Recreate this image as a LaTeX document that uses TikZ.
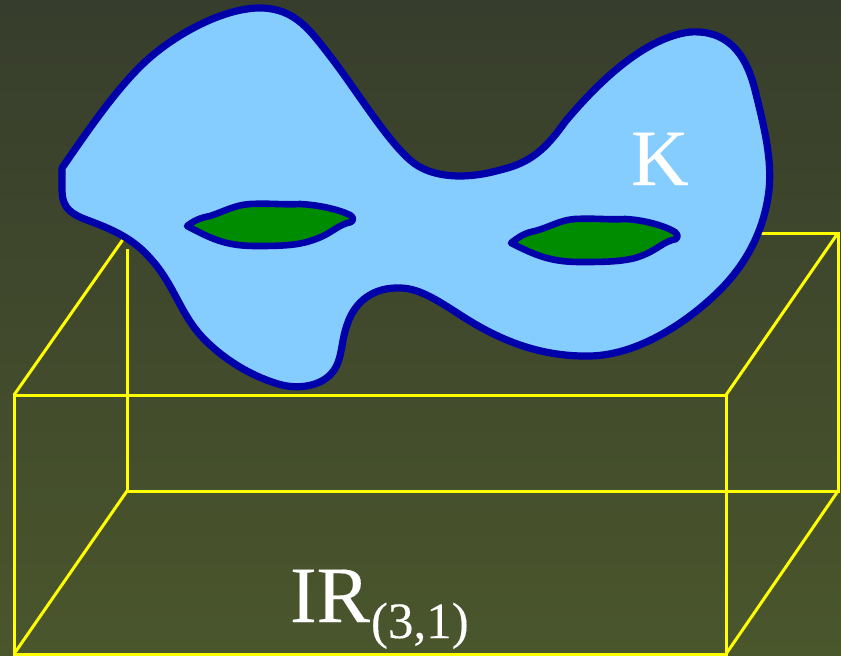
\documentclass[tikz,border=0pt]{standalone}
\usepackage{fontspec}
\setmainfont{Liberation Serif}[FakeBold=0.25]
\usetikzlibrary{shadings}
\definecolor{bgtop}{RGB}{55,61,44}
\definecolor{bgbot}{RGB}{74,86,44}
\definecolor{blobfill}{RGB}{133,204,255}
\definecolor{blobline}{RGB}{0,0,170}
\definecolor{holefill}{RGB}{0,140,0}
\definecolor{boxline}{RGB}{255,255,0}
\tikzset{
  boxedge/.style={draw=boxline,line width=3pt,line cap=butt,line join=miter},
  blob/.style={fill=blobfill,draw=blobline,line width=7.2pt,line join=round},
  hole/.style={fill=holefill,draw=blobline,line width=6.6pt,line join=round},
  whitetext/.style={text=white,inner sep=0pt,outer sep=0pt}
}
\begin{document}
\begin{tikzpicture}[x=1pt,y=-1pt]
\useasboundingbox (0,0) rectangle (841,656);
\shade[top color=bgtop,bottom color=bgbot] (0,0) rectangle (841,656);
% box corners
\coordinate (fa) at (14,395);
\coordinate (fb) at (726,395);
\coordinate (fc) at (726,654);
\coordinate (fd) at (14,654);
\coordinate (bb) at (838,233);
\coordinate (bc) at (838,491);
\coordinate (bd) at (127,491);
\coordinate (ba) at (127,249);
\coordinate (bt) at (760,233);
\coordinate (bl) at (124,238);
\draw[boxedge] (fa) -- (fb) -- (fc) -- (fd) -- cycle;
\draw[boxedge] (bt) -- (bb) -- (bc) -- (bd) -- (ba);
\draw[boxedge] (fa) -- (bl);
\draw[boxedge] (fb) -- (bb);
\draw[boxedge] (fc) -- (bc);
\draw[boxedge] (fd) -- (bd);
% surface
\draw[blob] (62,168)
 .. controls (85,135) and (115,90) .. (145,62)
 .. controls (175,34) and (225,7) .. (262,8)
 .. controls (295,9) and (310,30) .. (330,56)
 .. controls (355,88) and (385,138) .. (410,160)
 .. controls (430,178) and (465,180) .. (500,170)
 .. controls (530,163) and (545,150) .. (565,122)
 .. controls (590,92) and (640,38) .. (690,32)
 .. controls (725,30) and (745,50) .. (755,90)
 .. controls (765,130) and (772,160) .. (769,190)
 .. controls (765,225) and (750,260) .. (720,290)
 .. controls (690,320) and (640,355) .. (590,356)
 .. controls (540,357) and (500,340) .. (465,318)
 .. controls (440,302) and (420,288) .. (400,288)
 .. controls (375,287) and (355,300) .. (347,325)
 .. controls (340,345) and (343,362) .. (330,375)
 .. controls (318,387) and (295,390) .. (275,383)
 .. controls (250,375) and (225,360) .. (205,340)
 .. controls (180,315) and (175,285) .. (150,258)
 .. controls (130,235) and (105,227) .. (82,218)
 .. controls (68,212) and (62,205) .. (62,190)
 -- cycle;
\draw[hole] (187,226)
 .. controls (195,220) and (200,218) .. (210,216)
 .. controls (225,211) and (235,205) .. (250,204)
 .. controls (270,203) and (285,205) .. (300,204)
 .. controls (320,205) and (340,210) .. (350,215)
 .. controls (356,219) and (352,223) .. (347,223)
 .. controls (335,227) and (330,235) .. (310,241)
 .. controls (295,246) and (275,246) .. (255,246)
 .. controls (225,246) and (210,238) .. (187,226) -- cycle;
\draw[hole] (511,243)
 .. controls (520,236) and (525,233) .. (535,231)
 .. controls (550,227) and (560,220) .. (575,219)
 .. controls (595,218) and (610,220) .. (625,219)
 .. controls (645,220) and (665,226) .. (675,232)
 .. controls (680,236) and (677,240) .. (672,240)
 .. controls (660,244) and (655,252) .. (635,258)
 .. controls (620,262) and (600,262) .. (580,262)
 .. controls (550,262) and (535,255) .. (511,243) -- cycle;
\node[whitetext,anchor=base west,font=\fontsize{80}{80}\selectfont] (k) at (631,185) {K};
\node[whitetext,anchor=base west,font=\fontsize{80}{80}\selectfont] (ir) at (290,622) {IR};
\node[whitetext,anchor=base west,font=\fontsize{51}{51}\selectfont] (sub) at (371,638) {(3,1)};
\end{tikzpicture}
\end{document}
